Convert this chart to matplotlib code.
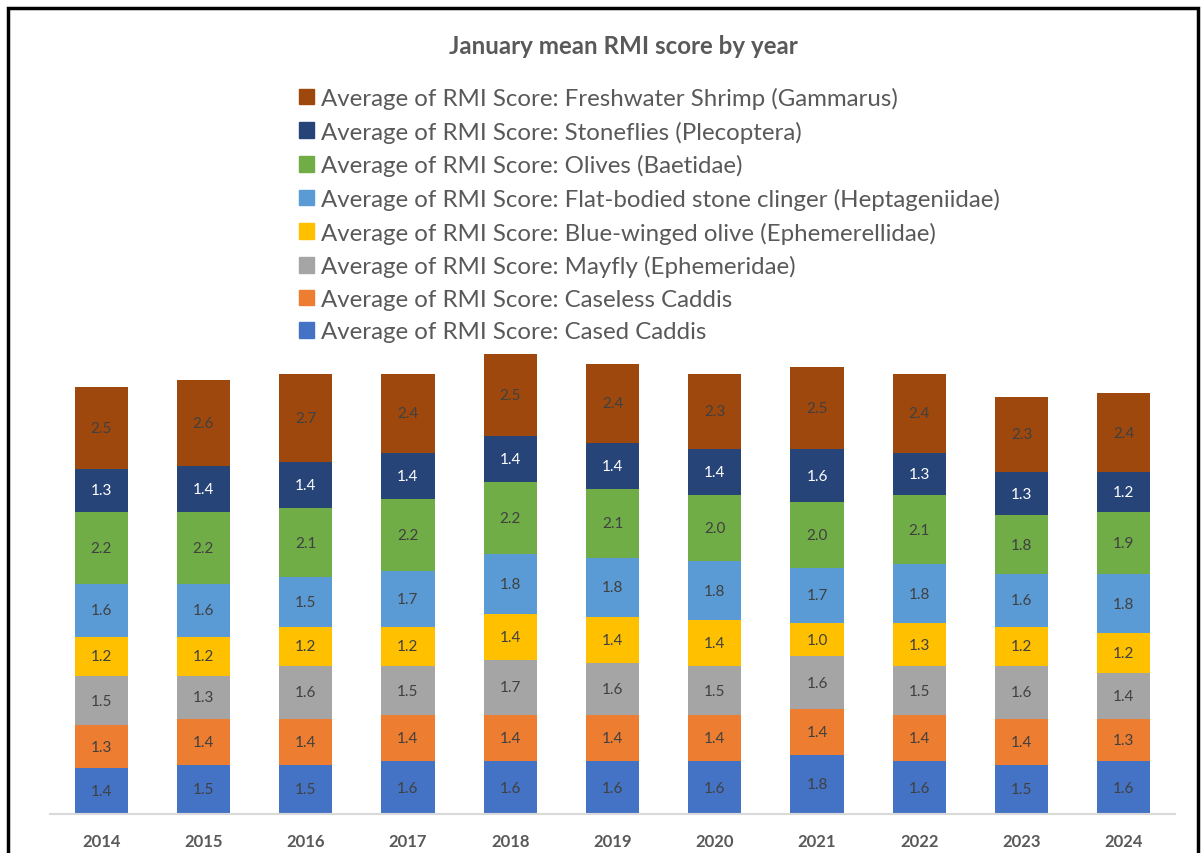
import numpy as np
import matplotlib.pyplot as plt
from matplotlib.patches import Rectangle, Patch

plt.rcParams['font.family'] = ['Lato', 'DejaVu Sans']

years = ['2014', '2015', '2016', '2017', '2018', '2019', '2020', '2021', '2022', '2023', '2024']

# bottom to top of each stack
series_names = [
    'Average of RMI Score: Cased Caddis',
    'Average of RMI Score: Caseless Caddis',
    'Average of RMI Score: Mayfly (Ephemeridae)',
    'Average of RMI Score: Blue-winged olive (Ephemerellidae)',
    'Average of RMI Score: Flat-bodied stone clinger (Heptageniidae)',
    'Average of RMI Score: Olives (Baetidae)',
    'Average of RMI Score: Stoneflies (Plecoptera)',
    'Average of RMI Score: Freshwater Shrimp (Gammarus)',
]
cased_caddis = [1.4, 1.5, 1.5, 1.6, 1.6, 1.6, 1.6, 1.8, 1.6, 1.5, 1.6]
caseless_caddis = [1.3, 1.4, 1.4, 1.4, 1.4, 1.4, 1.4, 1.4, 1.4, 1.4, 1.3]
mayfly = [1.5, 1.3, 1.6, 1.5, 1.7, 1.6, 1.5, 1.6, 1.5, 1.6, 1.4]
blue_winged_olive = [1.2, 1.2, 1.2, 1.2, 1.4, 1.4, 1.4, 1.0, 1.3, 1.2, 1.2]
flat_bodied = [1.6, 1.6, 1.5, 1.7, 1.8, 1.8, 1.8, 1.7, 1.8, 1.6, 1.8]
olives = [2.2, 2.2, 2.1, 2.2, 2.2, 2.1, 2.0, 2.0, 2.1, 1.8, 1.9]
stoneflies = [1.3, 1.4, 1.4, 1.4, 1.4, 1.4, 1.4, 1.6, 1.3, 1.3, 1.2]
shrimp = [2.5, 2.6, 2.7, 2.4, 2.5, 2.4, 2.3, 2.5, 2.4, 2.3, 2.4]

series_values = [cased_caddis, caseless_caddis, mayfly, blue_winged_olive,
                 flat_bodied, olives, stoneflies, shrimp]
colors = ['#4472C4', '#ED7D31', '#A5A5A5', '#FFC000',
          '#5B9BD5', '#70AD47', '#264478', '#9E480E']
label_colors = ['#404040'] * 6 + ['white', '#404040']

fig = plt.figure(figsize=(12.02, 8.54), dpi=100)
ax = fig.add_axes([50 / 1202, 39 / 854, 1125 / 1202, 465 / 854])

x = np.arange(len(years))
bottom = np.zeros(len(years))
for name, vals, c, lc in zip(series_names, series_values, colors, label_colors):
    vals = np.array(vals)
    bars = ax.bar(x, vals, 0.52, bottom=bottom, color=c, label=name, linewidth=0)
    ax.bar_label(bars, labels=[f'{v:.1f}' for v in vals], label_type='center',
                 color=lc, fontsize=11)
    bottom += vals

ax.set_xlim(-0.5, len(years) - 0.5)
ax.set_ylim(0, 14.15)
ax.set_xticks(x)
ax.set_xticklabels(years, fontsize=12, fontweight='bold', color='#595959')
ax.tick_params(axis='x', length=0, pad=14)
ax.set_yticks([])
for s in ['top', 'right', 'left']:
    ax.spines[s].set_visible(False)
ax.spines['bottom'].set_color('#D9D9D9')
ax.spines['bottom'].set_linewidth(1.5)

fig.text(623 / 1202, 1 - 47 / 854, 'January mean RMI score by year', ha='center', va='center',
         fontsize=17.4, fontweight='bold', color='#595959')

handles = [Patch(color=c) for c in colors][::-1]
fig.legend(handles, series_names[::-1], loc='upper left',
           bbox_to_anchor=(299 / 1202, 1 - 88 / 854), frameon=False,
           fontsize=17.3, labelcolor='#595959', handlelength=0.62, handleheight=0.62,
           handletextpad=0.3, labelspacing=0.48, borderpad=0, borderaxespad=0)

# outer frame
fig.patches.append(Rectangle((8 / 1202, -0.1), 1190 / 1202, 1.1 - 9 / 854,
                             transform=fig.transFigure, fill=False,
                             edgecolor='black', linewidth=2.5, clip_on=False))

fig.savefig('out.png', dpi=100)
